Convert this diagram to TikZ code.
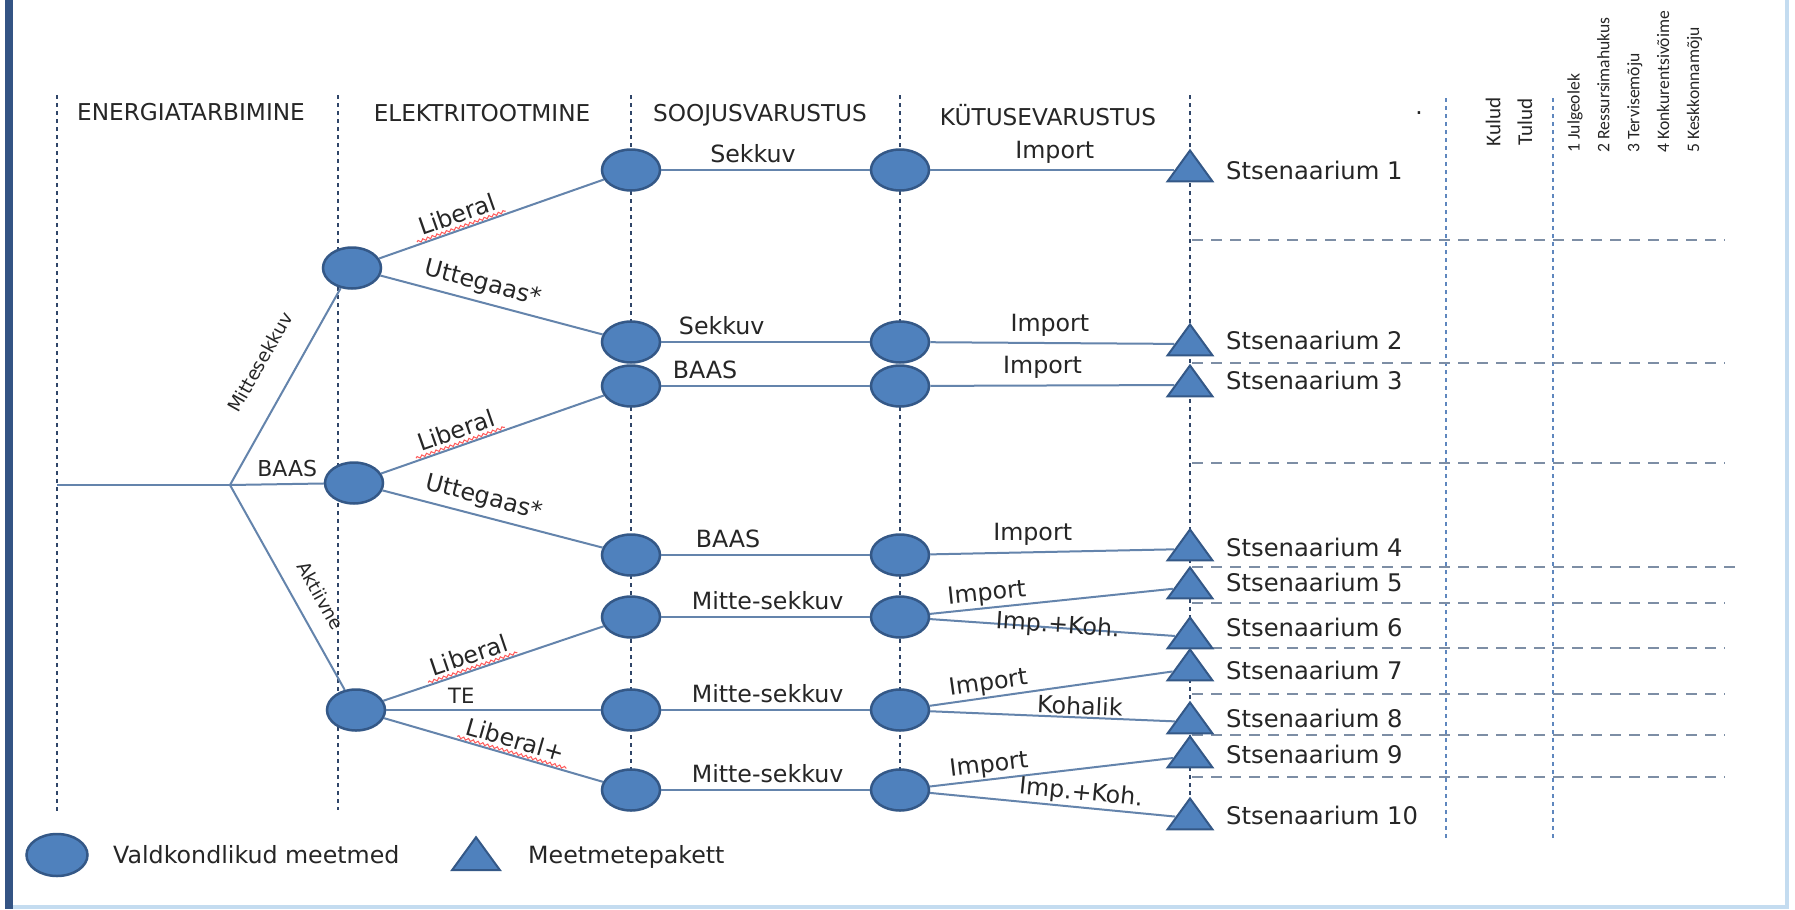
\documentclass[tikz,border=0pt]{standalone}
\usepackage{fontspec}
\setmainfont{DejaVu Sans}
\newfontfamily\narrowfont{Carlito}
\usetikzlibrary{shapes.geometric,decorations.pathmorphing,calc}

\definecolor{nodeblue}{RGB}{79,129,189}
\definecolor{nodeedge}{RGB}{52,88,135}
\definecolor{linkblue}{RGB}{100,132,172}
\definecolor{gridnavy}{RGB}{48,70,105}
\definecolor{gridblue}{RGB}{95,135,190}
\definecolor{rowgray}{RGB}{125,142,165}
\definecolor{textgray}{RGB}{38,38,38}
\definecolor{framedark}{RGB}{52,84,132}
\definecolor{framelight}{RGB}{196,220,240}

\begin{document}
\begin{tikzpicture}[x=0.2mm, y=-0.2mm,
    measure/.style={ellipse, draw=nodeedge, line width=0.5mm, fill=nodeblue, minimum width=11.6mm, minimum height=8.2mm, inner sep=0pt},
    package/.style={isosceles triangle, isosceles triangle stretches, shape border rotate=90, draw=nodeedge, line width=0.4mm, fill=nodeblue, minimum width=9mm, minimum height=6.2mm, inner sep=0pt},
    link/.style={draw=linkblue, line width=0.4mm},
    lbl/.style={text=textgray, font=\fontsize{13.5}{16}\selectfont},
    slim/.style={text=textgray, font=\fontsize{10.5}{12}\selectfont},
    head/.style={text=textgray, font=\fontsize{13.2}{16}\selectfont},
    scen/.style={text=textgray, font=\fontsize{13.8}{16}\selectfont, anchor=west},
    phase/.style={draw=gridnavy, line width=0.35mm, dash pattern=on 0.8mm off 0.8mm},
    crit/.style={draw=gridblue, line width=0.35mm, dash pattern=on 0.8mm off 0.8mm},
    row/.style={draw=rowgray, line width=0.3mm, dash pattern=on 2.2mm off 1.6mm},
    squiggle/.style={draw=red!65, line width=0.2mm, decorate, decoration={snake, amplitude=0.25mm, segment length=1mm}}]

    \useasboundingbox (0,0) rectangle (1795,909);

    % Frame
    \fill[white] (0,0) rectangle (1795,909);
    \fill[framedark] (5,0) rectangle (13,909);
    \draw[framelight, line width=0.8mm] (13,907) -- (1787,907) -- (1787,0);

    % Column lines
    \foreach \x/\yb in {57/813, 338/810, 631/790, 900/790, 1190/814}
        \draw[phase] (\x,95) -- (\x,\yb);
    \foreach \x in {1446,1553}
        \draw[crit] (\x,98) -- (\x,840);
    % Scenario rows
    \foreach \y in {240,363,463,603,648,694,735,777}
        \draw[row] (1192,\y) -- (1725,\y);
    \draw[row] (1192,567) -- (1740,567);

    % Headers
    \node[head] (hEnergia) at (191,112) {ENERGIATARBIMINE};
    \node[head] (hElekter) at (482,113) {ELEKTRITOOTMINE};
    \node[head] (hSoojus) at (760,115) {SOOJUSVARUSTUS};
    \node[head] (hKytus) at (1048,115) {KÜTUSEVARUSTUS};
    \node[head] (hDot) at (1419,113) {.};
    \node[rotate=90, align=center, text=textgray, font=\narrowfont\fontsize{12}{18}\selectfont] (hRaha) at (1509,122) {Kulud\\Tulud};
    \node[rotate=90, anchor=north west, inner sep=0pt, align=left, text=textgray, font=\narrowfont\fontsize{10}{17}\selectfont] (hMoju) at (1567,153)
        {1 Julgeolek\\2 Ressursimahukus\\3 Tervisemõju\\4 Konkurentsivõime\\5 Keskkonnamõju};

    % Energy use
    \coordinate (root) at (57,485);
    \coordinate (fork) at (230,485);
    \node[measure] (m1) at (352,268) {};
    \node[measure] (m2) at (354,483) {};
    \node[measure] (m3) at (356,710) {};

    % Heat supply
    \node[measure] (s1) at (631,170) {};
    \node[measure] (s2) at (631,342) {};
    \node[measure] (s3) at (631,386) {};
    \node[measure] (s4) at (631,555) {};
    \node[measure] (s5) at (631,617) {};
    \node[measure] (s6) at (631,710) {};
    \node[measure] (s7) at (631,790) {};

    % Fuel supply
    \node[measure] (k1) at (900,170) {};
    \node[measure] (k2) at (900,342) {};
    \node[measure] (k3) at (900,386) {};
    \node[measure] (k4) at (900,555) {};
    \node[measure] (k5) at (900,617) {};
    \node[measure] (k6) at (900,710) {};
    \node[measure] (k7) at (900,790) {};

    % Packages
    \node[package] (t1) at (1190,170) {};
    \node[package] (t2) at (1190,344) {};
    \node[package] (t3) at (1190,385) {};
    \node[package] (t4) at (1190,549) {};
    \node[package] (t5) at (1190,587) {};
    \node[package] (t6) at (1190,637) {};
    \node[package] (t7) at (1190,669) {};
    \node[package] (t8) at (1190,722) {};
    \node[package] (t9) at (1190,756) {};
    \node[package] (t10) at (1190,818) {};

    \node[scen] (n1) at (1220,170) {Stsenaarium 1};
    \node[scen] (n2) at (1220,340) {Stsenaarium 2};
    \node[scen] (n3) at (1220,380) {Stsenaarium 3};
    \node[scen] (n4) at (1220,547) {Stsenaarium 4};
    \node[scen] (n5) at (1220,582) {Stsenaarium 5};
    \node[scen] (n6) at (1220,627) {Stsenaarium 6};
    \node[scen] (n7) at (1220,670) {Stsenaarium 7};
    \node[scen] (n8) at (1220,718) {Stsenaarium 8};
    \node[scen] (n9) at (1220,754) {Stsenaarium 9};
    \node[scen] (n10) at (1220,815) {Stsenaarium 10};

    \draw[link] (root) -- (fork);
    \draw[link] (fork) -- node[slim, sloped, above=4mm, pos=0.54] (lMitte) {Mittesekkuv} (m1);
    \draw[link] (fork) -- node[lbl, above, pos=0.61, font=\fontsize{12.5}{15}\selectfont] (lBaas) {BAAS} (m2);
    \draw[link] (fork) -- node[slim, sloped, above=2.2mm, pos=0.6] (lAktiiv) {Aktiivne} (m3);

    \draw[link] (m1) -- node[lbl, sloped, above, pos=0.37] (lLib1) {Liberal} (s1);
    \draw[link] (m1) -- node[lbl, sloped, above, pos=0.44] (lUtt1) {Uttegaas*} (s2);
    \draw[link] (m2) -- node[lbl, sloped, above, pos=0.36] (lLib2) {Liberal} (s3);
    \draw[link] (m2) -- node[lbl, sloped, above, pos=0.44] (lUtt2) {Uttegaas*} (s4);
    \draw[link] (m3) -- node[lbl, sloped, above, pos=0.41] (lLib3) {Liberal} (s5);
    \draw[link] (m3) -- node[lbl, above, pos=0.35, font=\fontsize{12}{14}\selectfont] (lTE) {TE} (s6);
    \draw[link] (m3) -- node[lbl, sloped, above, pos=0.58] (lLib4) {Liberal+} (s7);

    \draw[squiggle] ($(lLib1.base west)!0.6!(lLib1.south west)$) -- ($(lLib1.base east)!0.6!(lLib1.south east)$);
    \draw[squiggle] ($(lLib2.base west)!0.6!(lLib2.south west)$) -- ($(lLib2.base east)!0.6!(lLib2.south east)$);
    \draw[squiggle] ($(lLib3.base west)!0.6!(lLib3.south west)$) -- ($(lLib3.base east)!0.6!(lLib3.south east)$);
    \draw[squiggle] ($(lLib4.base west)!0.6!(lLib4.south west)$) -- ($(lLib4.base east)!0.6!(lLib4.south east)$);

    \draw[link] (s1) -- node[lbl, above, pos=0.44] (lSek1) {Sekkuv} (k1);
    \draw[link] (s2) -- node[lbl, above, pos=0.29] (lSek2) {Sekkuv} (k2);
    \draw[link] (s3) -- node[lbl, above, pos=0.21] (lBaas3) {BAAS} (k3);
    \draw[link] (s4) -- node[lbl, above, pos=0.32] (lBaas4) {BAAS} (k4);
    \draw[link] (s5) -- node[lbl, above, pos=0.51] (lMs5) {Mitte-sekkuv} (k5);
    \draw[link] (s6) -- node[lbl, above, pos=0.51] (lMs6) {Mitte-sekkuv} (k6);
    \draw[link] (s7) -- node[lbl, above, pos=0.51] (lMs7) {Mitte-sekkuv} (k7);

    \draw[link] (k1) -- node[lbl, above, pos=0.51] (lImp1) {Import} (t1);
    \draw[link] (k2) -- node[lbl, above, pos=0.49] (lImp2) {Import} (t2);
    \draw[link] (k3) -- node[lbl, above, pos=0.46] (lImp3) {Import} (t3);
    \draw[link] (k4) -- node[lbl, above, pos=0.42] (lImp4) {Import} (t4);
    \draw[link] (k5) -- node[lbl, sloped, above, inner sep=0.3mm, pos=0.24] (lImp5) {Import} (t5);
    \draw[link] (k5) -- node[lbl, sloped, above=-2.4mm, inner sep=0.3mm, pos=0.52] (lIk6) {Imp.+Koh.} (t6);
    \draw[link] (k6) -- node[lbl, sloped, above, inner sep=0.3mm, pos=0.25] (lImp7) {Import} (t7);
    \draw[link] (k6) -- node[lbl, sloped, above, inner sep=0.3mm, pos=0.61] (lKoh8) {Kohalik} (t8);
    \draw[link] (k7) -- node[lbl, sloped, above, inner sep=0.3mm, pos=0.25] (lImp9) {Import} (t9);
    \draw[link] (k7) -- node[lbl, sloped, above, inner sep=0.3mm, pos=0.61] (lIk10) {Imp.+Koh.} (t10);

    % Legend
    \node[measure, minimum width=12.2mm, minimum height=8.4mm] (legM) at (57,855) {};
    \node[lbl, anchor=west] (legMtxt) at (107,855) {Valdkondlikud meetmed};
    \node[package, minimum width=9.6mm, minimum height=6.6mm] (legP) at (476,858) {};
    \node[lbl, anchor=west] (legPtxt) at (522,857) {Meetmetepakett};

\end{tikzpicture}
\end{document}
